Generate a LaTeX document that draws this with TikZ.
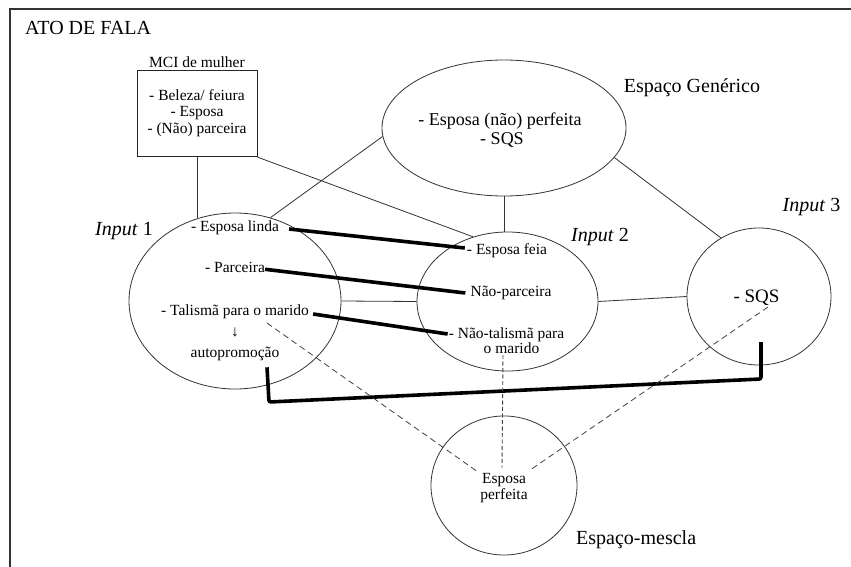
\documentclass[tikz,border=0pt]{standalone}
\usepackage{fontspec}
\setmainfont{Liberation Serif}
\usetikzlibrary{shapes.geometric}
\begin{document}
\begin{tikzpicture}[x=1pt,y=-1pt,
  thinln/.style={draw=black!80,line width=0.8pt},
  boldln/.style={draw=black,line width=3.6pt},
  dashln/.style={draw=black!75,line width=0.8pt,dash pattern=on 6pt off 4pt},
  dotln/.style={draw=black!75,line width=0.9pt,dash pattern=on 4pt off 2.5pt},
  space/.style={ellipse,draw=black!80,line width=0.8pt,inner sep=0pt},
  body/.style={font=\fontsize{15.5}{16}\selectfont,inner sep=0pt,anchor=base},
  gentxt/.style={font=\fontsize{18}{20}\selectfont,inner sep=0pt,anchor=base},
  big/.style={font=\fontsize{20}{22}\selectfont,inner sep=0pt,anchor=base},
]
\useasboundingbox (0,0) rectangle (851,567);
\fill[white] (0,0) rectangle (851,567);
% frame
\draw[black!80,line width=1.4pt] (10,567) -- (10,9) -- (851,9);
\node[big,anchor=base west] (ato) at (25,35) {ATO DE FALA};

% MCI box
\node[draw=black!85,line width=0.8pt,minimum width=120pt,minimum height=86pt,inner sep=0pt] (mci) at (197,113.7) {};
\node[body] (mcit) at (197,67.7) {MCI de mulher};
\node[body] (mci1) at (197,101) {- Beleza/ feiura};
\node[body] (mci2) at (197,116.5) {- Esposa};
\node[body] (mci3) at (197,133.5) {- (Não) parceira};

% generic space
\node[space,minimum width=244pt,minimum height=136pt] (gen) at (504,128) {};
\node[gentxt] (gen1) at (500,125) {- Esposa (não) perfeita};
\node[gentxt] (gen2) at (502,144) {- SQS};
\node[big] (genl) at (692,93) {Espaço Genérico};

% input 1
\node[space,minimum width=212pt,minimum height=176pt] (in1) at (235,301) {};
\node[big,anchor=base east] (in1l) at (153,235) {\textit{Input} 1};
\node[body] (linda) at (235,231) {- Esposa linda};
\node[body] (parc) at (235,272.3) {- Parceira};
\node[body] (tal) at (235,315) {- Talismã para o marido};
\node[body,anchor=center] (arr) at (235,332) {↓};
\node[body] (auto) at (235,357.3) {autopromoção};

% input 2
\node[space,minimum width=181pt,minimum height=139pt] (in2) at (507.5,301.5) {};
\node[big] (in2l) at (600,241) {\textit{Input} 2};
\node[body] (feia) at (507,254) {- Esposa feia};
\node[body] (naop) at (511,296) {Não-parceira};
\node[body] (ntal) at (506.5,338) {- Não-talismã para};
\node[body] (omar) at (511.5,353) {o marido};

% input 3
\node[space,minimum width=144pt,minimum height=137pt] (in3) at (759,296.5) {};
\node[big] (in3l) at (811.5,211) {\textit{Input} 3};
\node[body,font=\fontsize{19}{20}\selectfont] (sqs) at (756.5,302) {- SQS};

% blend
\node[space,minimum width=146pt,minimum height=139pt] (mes) at (504,485.5) {};
\node[body] (esp1) at (504,483) {Esposa};
\node[body] (esp2) at (504,499) {perfeita};
\node[big,anchor=base west] (mesl) at (576,544) {Espaço-mescla};

% thin connectors
\draw[thinln] (mci.south) -- (mci.south |- in1.113);
\draw[thinln] (mci.south east) -- (in2.118);
\draw[thinln] (gen.184) -- (in1.67);
\draw[thinln] (gen.south) -- (gen.south |- in2.north);
\draw[thinln] (gen.345.6) -- (in3.123.5);
\draw[thinln] (in1.east) -- (in2.west);
\draw[thinln] (in2.east) -- (in3.west);

% bold mapping lines
\draw[boldln] ([xshift=10pt,yshift=2pt]linda.base east) -- ([xshift=-2pt,yshift=6pt]feia.base west);
\draw[boldln] ([yshift=3pt]parc.base east) -- ([xshift=-5pt,yshift=3pt]naop.base west);
\draw[boldln] ([xshift=4pt,yshift=1pt]tal.base east) -- ([xshift=-1pt,yshift=4pt]ntal.base west);
\coordinate (lc1) at (269,402);
\coordinate (lc2) at (761,379);
\coordinate (lend) at (761,342);
\draw[boldln,rounded corners=2pt] ([xshift=32pt,yshift=-10pt]auto.base) -- (lc1) -- (lc2) -- (lend);

% dashed projections
\draw[dashln] ([xshift=32pt,yshift=-8pt]tal.base) -- ([xshift=-3pt]esp1.north west);
\draw[dotln] ([xshift=-8.5pt,yshift=-2pt]omar.base) -- ([xshift=-2pt,yshift=5pt]esp1.north);
\draw[dashln] ([xshift=11.5pt,yshift=-5pt]sqs.base) -- ([xshift=3pt,yshift=2pt]esp1.north east);
\end{tikzpicture}
\end{document}
